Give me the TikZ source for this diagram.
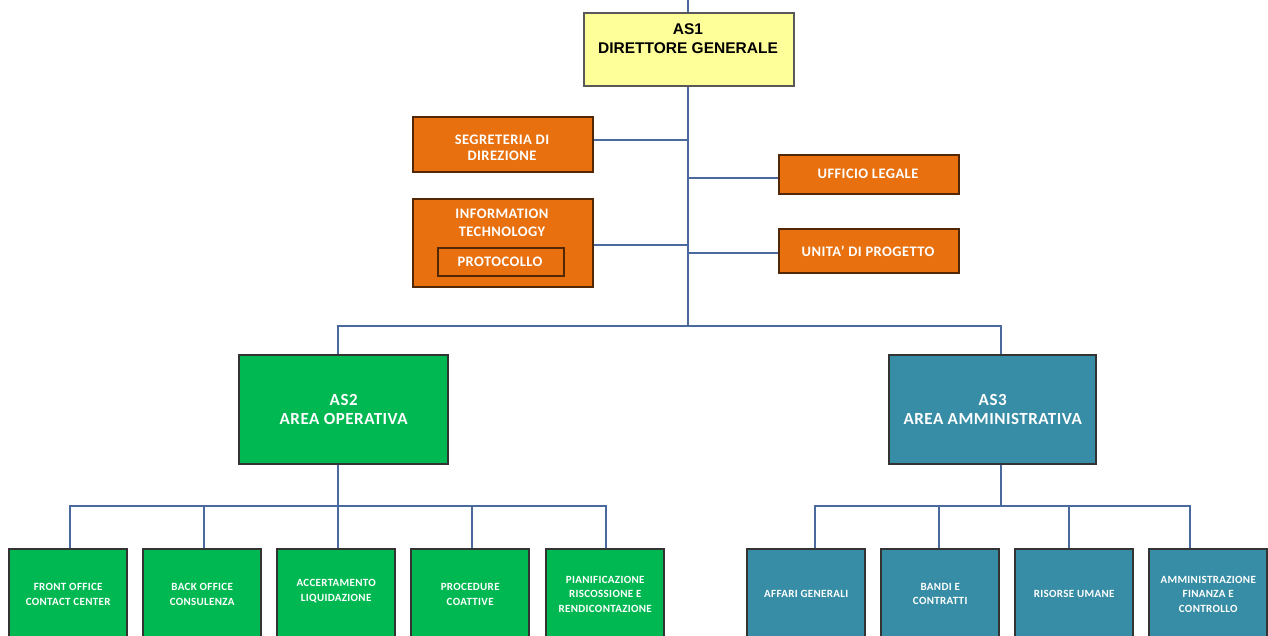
\documentclass[tikz,border=0pt]{standalone}
\usepackage{fontspec}
\setmainfont{Carlito}[LetterSpace=3]
\newfontfamily\arialb{Liberation Sans}
\definecolor{lineblue}{HTML}{4A6A9E}
\definecolor{yel}{HTML}{FFFF99}
\definecolor{ora}{HTML}{E8700E}
\definecolor{grn}{HTML}{00B852}
\definecolor{teal}{HTML}{378DA6}
\begin{document}
\begin{tikzpicture}[x=1pt,y=-1pt,
  conn/.style={draw=lineblue,line width=2.2pt},
  boxbase/.style={draw=black!80,line width=2.4pt,inner sep=0pt,align=center,font=\bfseries},
  yelbox/.style={boxbase,fill=yel,draw=black!65,text=black},
  orabox/.style={boxbase,fill=ora,draw=black!65!ora,text=white},
  grnbox/.style={boxbase,fill=grn,text=white},
  tealbox/.style={boxbase,fill=teal,text=white},
  lbl/.style={inner sep=0pt,align=center},
  oralbl/.style={lbl,text=white,font=\bfseries\fontsize{14.5}{16}\selectfont}]
\useasboundingbox (0,0) rectangle (1268,636);
\begin{scope}
\clip (0,0) rectangle (1268,636);
% junction coordinates
\coordinate (top) at (688,0);
\coordinate (j1) at (688,140);
\coordinate (j2) at (688,178);
\coordinate (j3) at (688,245);
\coordinate (j4) at (688,253);
\coordinate (hub) at (688,326);
\coordinate (hl) at (338,326);
\coordinate (hr) at (1001,326);
\coordinate (g) at (338,506);
\coordinate (t) at (1001,506);
% boxes
\node[yelbox,minimum width=210,minimum height=73,anchor=north west] (as1) at (583,12) {};
\node[lbl,font=\arialb\bfseries\fontsize{15.5}{19}\selectfont] (as1t) at (688,38.5) {AS1\\DIRETTORE GENERALE};
\node[orabox,minimum width=180,minimum height=55,anchor=north west] (seg) at (412,116) {};
\node[oralbl] (segt) at (502,148) {SEGRETERIA DI\\DIREZIONE};
\node[orabox,minimum width=180,minimum height=88,anchor=north west] (it) at (412,198) {};
\node[oralbl,font=\bfseries\fontsize{14.5}{18}\selectfont] (itt) at (502,223) {INFORMATION\\TECHNOLOGY};
\node[orabox,minimum width=126,minimum height=28,anchor=north west] (prot) at (437,247) {};
\node[oralbl] (prott) at (500,261.5) {PROTOCOLLO};
\node[orabox,minimum width=180,minimum height=39,anchor=north west] (leg) at (778,154) {};
\node[oralbl] (legt) at (868,173.5) {UFFICIO LEGALE};
\node[orabox,minimum width=180,minimum height=44,anchor=north west] (prog) at (778,228) {};
\node[oralbl] (progt) at (868,251.5) {UNITA' DI PROGETTO};
\node[grnbox,minimum width=209,minimum height=109,anchor=north west,font=\bfseries\fontsize{17}{19}\selectfont] (as2) at (238,354) {AS2\\AREA OPERATIVA};
\node[tealbox,minimum width=207,minimum height=109,anchor=north west,font=\bfseries\fontsize{17}{19}\selectfont] (as3) at (888,354) {AS3\\AREA AMMINISTRATIVA};
\draw[conn] (top) -- (as1.north -| top);
\draw[conn] (as1.south -| top) -- (hub);
\draw[conn] (seg.east |- j1) -- (j1);
\draw[conn] (it.east |- j3) -- (j3);
\draw[conn] (j2) -- (leg.west |- j2);
\draw[conn] (j4) -- (prog.west |- j4);
\draw[conn] (as2.north -| hl) -- (hl) -- (hr) -- (as3.north -| hr);
\draw[conn] (as2.south -| g) -- (g);
\draw[conn] (as3.south -| t) -- (t);
% green children
\foreach \n/\x/\txt in {ga/8/{FRONT OFFICE\\CONTACT CENTER},gb/142/{BACK OFFICE\\CONSULENZA},gc/276/{ACCERTAMENTO\\LIQUIDAZIONE\\[-7pt]\mbox{}},gd/410/{PROCEDURE\\COATTIVE},ge/545/{PIANIFICAZIONE\\RISCOSSIONE E\\RENDICONTAZIONE}}{
  \node[grnbox,minimum width=118,minimum height=90,anchor=north west,font=\bfseries\fontsize{11}{14.5}\selectfont] (\n) at (\x,548) {\txt};
}
\coordinate (k1) at (70,506);
\coordinate (k2) at (204,506);
\coordinate (k3) at (338,506);
\coordinate (k4) at (472,506);
\coordinate (k5) at (606,506);
\draw[conn] (ga.north -| k1) -- (k1) -- (k5) -- (ge.north -| k5);
\draw[conn] (gb.north -| k2) -- (k2);
\draw[conn] (gc.north -| k3) -- (k3);
\draw[conn] (gd.north -| k4) -- (k4);
% teal children
\foreach \n/\x/\txt in {ta/746/{AFFARI GENERALI},tb/880/{BANDI E\\CONTRATTI},tc/1014/{RISORSE UMANE},td/1148/{AMMINISTRAZIONE\\FINANZA E\\CONTROLLO}}{
  \node[tealbox,minimum width=118,minimum height=90,anchor=north west,font=\bfseries\fontsize{11}{14.5}\selectfont] (\n) at (\x,548) {\txt};
}
\coordinate (c1) at (815,506);
\coordinate (c2) at (939,506);
\coordinate (c3) at (1069,506);
\coordinate (c4) at (1190,506);
\draw[conn] (ta.north -| c1) -- (c1) -- (c4) -- (td.north -| c4);
\draw[conn] (tb.north -| c2) -- (c2);
\draw[conn] (tc.north -| c3) -- (c3);
\end{scope}
\end{tikzpicture}
\end{document}
